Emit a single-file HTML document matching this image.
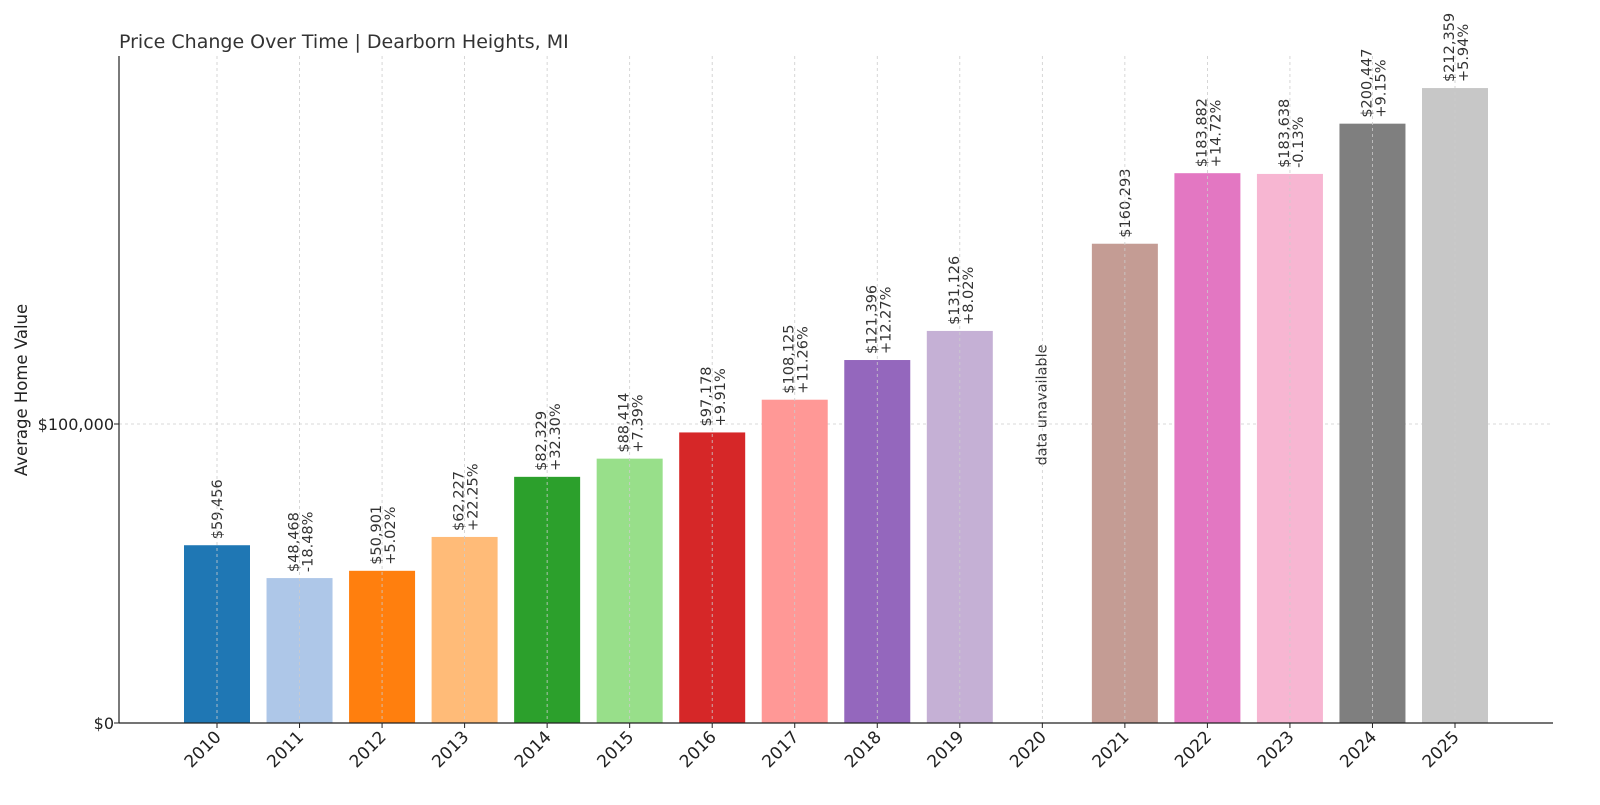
<!DOCTYPE html>
<html><head><meta charset="utf-8"><style>
body{margin:0;background:#fff}
svg{font-family:"DejaVu Sans","Liberation Sans",sans-serif}
</style></head><body>
<svg id="c" width="1600" height="800" viewBox="0 0 1600 800" xmlns="http://www.w3.org/2000/svg">
<text x="119" y="48" font-size="19" fill="#333">Price Change Over Time | Dearborn Heights, MI</text>
<text transform="translate(27,390) rotate(-90)" text-anchor="middle" font-size="16.5" fill="#222">Average Home Value</text>
<g id="g"></g>
</svg>
<script>
const years=["2010","2011","2012","2013","2014","2015","2016","2017","2018","2019","2020","2021","2022","2023","2024","2025"];
const values=[59456,48468,50901,62227,82329,88414,97178,108125,121396,131126,null,160293,183882,183638,200447,212359];
const pcts=["","-18.48%","+5.02%","+22.25%","+32.30%","+7.39%","+9.91%","+11.26%","+12.27%","+8.02%","","","+14.72%","-0.13%","+9.15%","+5.94%"];
const colors=["#1f77b4","#aec7e8","#ff7f0e","#ffbb78","#2ca02c","#98df8a","#d62728","#ff9896","#9467bd","#c5b0d5","#8c564b","#c49c94","#e377c2","#f7b6d2","#7f7f7f","#c7c7c7"];
const yTicks=[0,100000];
const yTickLabels=["$0","$100,000"];
const L=119,R=1553,T=56,B=723;
const x=i=>217+i*(1455-217)/15;
const y=v=>B-v*299/100000;
const NS="http://www.w3.org/2000/svg",g=document.getElementById('g');
function mk(t,a,txt){const e=document.createElementNS(NS,t);for(const k in a)e.setAttribute(k,a[k]);if(txt!=null)e.textContent=txt;g.appendChild(e);return e;}
yTicks.forEach((v,i)=>{
 const gl=mk('line',{x1:L,x2:R,y1:y(v),y2:y(v),stroke:'#ccc','stroke-dasharray':'3,3','stroke-width':0.8});
 
 const tk=mk('line',{x1:L-5,x2:L,y1:y(v),y2:y(v),stroke:'#222'});
 
 const t=mk('text',{x:L-5,y:y(v)+6,'text-anchor':'end','font-size':16,fill:'#222'},yTickLabels[i]);
 
});
years.forEach((yr,i)=>{
 const cx=x(i);
 if(values[i]!=null){
  const r=mk('rect',{x:cx-33,y:y(values[i]),width:66,height:B-y(values[i]),fill:colors[i]});
  
  const top=y(values[i])-6;
  const lbl='$'+values[i].toLocaleString('en-US');
  if(pcts[i]){
   const a=mk('text',{transform:`translate(${cx-1},${top}) rotate(-90)`,'font-size':14.5,fill:'#333'},lbl);
   
   const b=mk('text',{transform:`translate(${cx+13},${top}) rotate(-90)`,'font-size':14.5,fill:'#333'},pcts[i]);
   
  }else{
   const a=mk('text',{transform:`translate(${cx+5},${top}) rotate(-90)`,'font-size':14.5,fill:'#333'},lbl);
   
  }
 }else{
  const a=mk('text',{transform:`translate(${cx+4},405) rotate(-90)`,'text-anchor':'middle','font-size':14.5,fill:'#333'},'data unavailable');
  
 }
 const gl=mk('line',{x1:cx,x2:cx,y1:T,y2:B,stroke:'#ccc','stroke-dasharray':'3,3','stroke-width':0.8});
 
 const tk=mk('line',{x1:cx,x2:cx,y1:B,y2:B+5,stroke:'#222'});
 
 const t=mk('text',{transform:`translate(${cx+5},${B+15}) rotate(-45)`,'text-anchor':'end','font-size':17,fill:'#222'},yr);
 
});
const ax=mk('line',{x1:L,x2:L,y1:T,y2:B,stroke:'#222','stroke-width':1.2});

const bx=mk('line',{x1:L,x2:R,y1:B,y2:B,stroke:'#222','stroke-width':1.2});

</script>
</body></html>
